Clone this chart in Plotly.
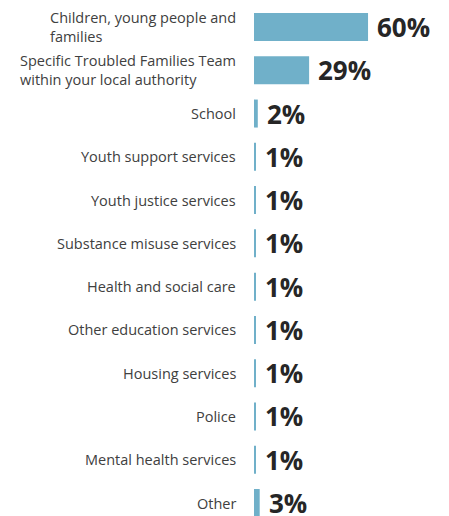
import plotly.graph_objects as go

categories = [
    "Children, young people and<br>families",
    "Specific Troubled Families Team<br>within your local authority",
    "School",
    "Youth support services",
    "Youth justice services",
    "Substance misuse services",
    "Health and social care",
    "Other education services",
    "Housing services",
    "Police",
    "Mental health services",
    "Other",
]
values = [60, 29, 2, 1, 1, 1, 1, 1, 1, 1, 1, 3]
value_labels = [f"{v}%" for v in values]

BAR = "#70B0C9"
idx = list(range(len(categories)))

fig = go.Figure(go.Bar(
    x=values, y=idx, orientation="h",
    marker=dict(color=BAR, line=dict(width=0)),
    hoverinfo="skip",
))

ann = []
for i, (c, v, t) in enumerate(zip(categories, values, value_labels)):
    ann.append(dict(x=0, y=i, xref="x", yref="y", text=c, showarrow=False,
                    xanchor="right", yanchor="middle", align="left", xshift=-16,
                    font=dict(family="Open Sans", size=14.5, color="#404040")))
    ann.append(dict(x=v, y=i, xref="x", yref="y", text=f"<b>{t}</b>", showarrow=False,
                    xanchor="left", yanchor="middle", xshift=7,
                    font=dict(family="Open Sans", size=26, color="#262626")))

fig.update_layout(
    width=449, height=516,
    margin=dict(l=254, r=0, t=0, b=0),
    paper_bgcolor="white", plot_bgcolor="white",
    bargap=0.353,
    showlegend=False,
    annotations=ann,
    xaxis=dict(range=[0, 102.6], visible=False, fixedrange=True),
    yaxis=dict(range=[11.30, -0.624], visible=False, fixedrange=True),
)

fig.write_html("out.html")
